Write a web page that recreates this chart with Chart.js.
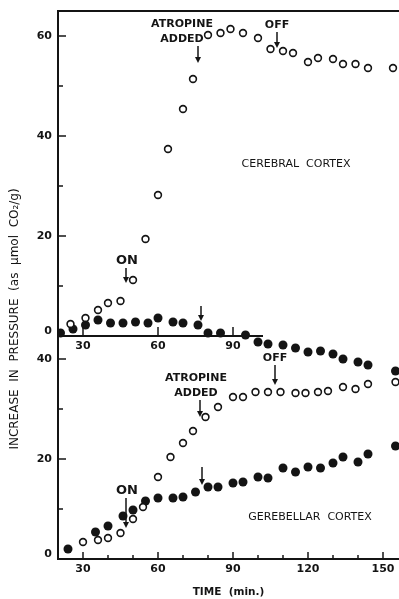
<!DOCTYPE html>
<html>
<head>
<meta charset="utf-8">
<script src="https://cdn.jsdelivr.net/npm/chart.js@4.4.1/dist/chart.umd.min.js"></script>
<style>
  html, body { margin: 0; padding: 0; background: #fff; }
  #chartBox { width: 399px; height: 599px; }
</style>
</head>
<body>
<div id="chartBox"><canvas id="pressureChart" width="399" height="599"></canvas></div>
<script>
// Cerebral cortex (upper panel)
const cerebralOpenTime = [25, 31, 36, 40, 45, 50, 55, 60, 64, 70, 74, 80, 85, 89, 94, 100, 105, 110, 114, 120, 124, 130, 134, 139, 144, 154];
const cerebralOpen = [2.4, 3.6, 5.2, 6.6, 7.0, 11.2, 19.4, 28.2, 37.4, 45.4, 51.4, 60.2, 60.6, 61.4, 60.6, 59.6, 57.4, 57.0, 56.6, 54.8, 55.6, 55.4, 54.4, 54.4, 53.6, 53.6];
const cerebralFilledTime = [21, 26, 31, 36, 41, 46, 51, 56, 60, 66, 70, 76, 80, 85, 95, 100, 104, 110, 115, 120, 125, 130, 134, 140, 144, 155];
const cerebralFilled = [0.6, 1.4, 2.2, 3.2, 2.6, 2.6, 2.8, 2.6, 3.6, 2.8, 2.6, 2.2, 0.6, 0.6, 0.2, -1.2, -1.6, -1.8, -2.4, -3.2, -3.0, -3.6, -4.6, -5.2, -5.8, -7.0];

// Cerebellar cortex (lower panel)
const cerebellarOpenTime = [30, 36, 40, 45, 50, 54, 60, 65, 70, 74, 79, 84, 90, 94, 99, 104, 109, 115, 119, 124, 128, 134, 139, 144, 155];
const cerebellarOpen = [3.4, 3.8, 4.2, 5.2, 8.0, 10.4, 16.4, 20.4, 23.2, 25.6, 28.4, 30.4, 32.4, 32.4, 33.4, 33.4, 33.4, 33.2, 33.2, 33.4, 33.6, 34.4, 34.0, 35.0, 35.4];
const cerebellarFilledTime = [24, 35, 40, 46, 50, 55, 60, 66, 70, 75, 80, 84, 90, 94, 100, 104, 110, 115, 120, 125, 130, 134, 140, 144, 155];
const cerebellarFilled = [2.0, 5.4, 6.6, 8.6, 9.8, 11.6, 12.2, 12.2, 12.4, 13.4, 14.4, 14.4, 15.2, 15.4, 16.4, 16.2, 18.2, 17.4, 18.4, 18.2, 19.2, 20.4, 19.4, 21.0, 22.6];

// tick labels
const timeTicks = [30, 60, 90, 120, 150];
const upperTimeTicks = [30, 60, 90];
const upperTicks = [0, 20, 40, 60];
const lowerTicks = [0, 20, 40];

const ink = '#141414';
const font = 'DejaVu Sans';

// arrows and labels placed on the data
const notes = [
  { axis: 'yTop', x: 76, y: 54.6, len: 17, dx: -16, text: ['ATROPINE', 'ADDED'] },
  { axis: 'yTop', x: 107.6, y: 57.6, len: 16, dx: 0, text: ['OFF'] },
  { axis: 'yTop', x: 47.2, y: 10.6, len: 15, dx: 1, text: ['ON'] },
  { axis: 'yTop', x: 77.2, y: 3.0, len: 15, dx: 0, text: [] },
  { axis: 'yBot', x: 76.8, y: 28.4, len: 17, dx: -4, text: ['ATROPINE', 'ADDED'] },
  { axis: 'yBot', x: 106.8, y: 34.8, len: 20, dx: 0, text: ['OFF'] },
  { axis: 'yBot', x: 47.2, y: 6.2, len: 30, dx: 1, text: ['ON'] },
  { axis: 'yBot', x: 77.6, y: 14.8, len: 18, dx: 0, text: [] }
];
const panelLabels = [
  { axis: 'yTop', x: 115.2, y: 34.4, text: 'CEREBRAL  CORTEX' },
  { axis: 'yBot', x: 120.8, y: 8.4, text: 'GEREBELLAR  CORTEX' }
];

function pairs(xs, ys) {
  return xs.map((t, i) => ({ x: t, y: ys[i] }));
}

const openStyle = { pointRadius: 3.4, pointBorderWidth: 1.6, pointBorderColor: ink, pointBackgroundColor: '#fff', showLine: false };
const filledStyle = { pointRadius: 4.5, pointBorderWidth: 0, pointBackgroundColor: ink, pointBorderColor: ink, showLine: false };

const decorations = {
  id: 'decorations',
  afterDraw(chart) {
    const { ctx, chartArea: a, scales } = chart;
    const x = scales.x, yTop = scales.yTop, yBot = scales.yBot;
    ctx.save();
    ctx.strokeStyle = ink;
    ctx.fillStyle = ink;

    function seg(x1, y1, x2, y2, w) {
      ctx.lineWidth = w;
      ctx.beginPath();
      ctx.moveTo(x1, y1);
      ctx.lineTo(x2, y2);
      ctx.stroke();
    }

    // frame on top
    seg(a.left - 1, a.top, a.right, a.top, 2);

    // upper panel time axis
    const y0 = yTop.getPixelForValue(0);
    seg(a.left, y0, x.getPixelForValue(102), y0, 2);
    upperTimeTicks.forEach(t => seg(x.getPixelForValue(t), y0, x.getPixelForValue(t), y0 - 9, 1.5));
    ctx.font = 'bold 11px "' + font + '"';
    ctx.textAlign = 'center';
    ctx.textBaseline = 'middle';
    upperTimeTicks.forEach(t => ctx.fillText(String(t), x.getPixelForValue(t), y0 + 10));

    // value labels of both panels (zero sits a little above its line)
    ctx.textAlign = 'right';
    upperTicks.forEach(v => ctx.fillText(String(v), a.left - 6, yTop.getPixelForValue(v) - (v === 0 ? 5 : 0)));
    lowerTicks.forEach(v => ctx.fillText(String(v), a.left - 6, yBot.getPixelForValue(v) - (v === 0 ? 5 : 0)));
    ctx.textAlign = 'center';

    // lower time axis tick marks
    for (let t = 30; t <= 150; t += 10) {
      const px = x.getPixelForValue(t);
      seg(px, a.bottom, px, a.bottom - (t % 30 === 0 ? 7 : 4), 1.5);
    }

    // value axis tick marks
    for (let v = 10; v <= 60; v += 10) {
      const py = yTop.getPixelForValue(v);
      seg(a.left, py, a.left + (v % 20 === 0 ? 8 : 5), py, 1.5);
    }
    for (let v = 10; v <= 40; v += 10) {
      const py = yBot.getPixelForValue(v);
      seg(a.left, py, a.left + (v % 20 === 0 ? 8 : 5), py, 1.5);
    }

    // arrows with notes
    notes.forEach(n => {
      const sc = scales[n.axis];
      const px = x.getPixelForValue(n.x);
      const tip = sc.getPixelForValue(n.y);
      const top = tip - n.len;
      seg(px, top, px, tip - 4, 1.5);
      ctx.beginPath();
      ctx.moveTo(px - 3, tip - 6);
      ctx.lineTo(px + 3, tip - 6);
      ctx.lineTo(px, tip);
      ctx.closePath();
      ctx.fill();
      ctx.font = 'bold ' + (n.text[0] === 'ON' ? 13 : 11) + 'px "' + font + '"';
      n.text.slice().reverse().forEach((s, i) => {
        ctx.fillText(s, px + n.dx, top - 7 - i * 15);
      });
    });

    ctx.font = '11px "' + font + '"';
    panelLabels.forEach(p => {
      ctx.fillText(p.text, x.getPixelForValue(p.x), scales[p.axis].getPixelForValue(p.y));
    });

    // value axis title
    ctx.translate(15, 319);
    ctx.rotate(-Math.PI / 2);
    ctx.font = '12px "' + font + '"';
    ctx.fillText('INCREASE  IN  PRESSURE  (as  \u03bcmol  CO\u2082/g)', 0, 0);
    ctx.restore();
  }
};

document.addEventListener('DOMContentLoaded', function() {
  const ctx = document.getElementById('pressureChart').getContext('2d');
  const tickFont = { family: font, size: 11, weight: 'bold' };

  new Chart(ctx, {
    type: 'scatter',
    data: {
      datasets: [
        Object.assign({ label: 'Cerebral open', yAxisID: 'yTop', data: pairs(cerebralOpenTime, cerebralOpen) }, openStyle),
        Object.assign({ label: 'Cerebral filled', yAxisID: 'yTop', data: pairs(cerebralFilledTime, cerebralFilled) }, filledStyle),
        Object.assign({ label: 'Cerebellar open', yAxisID: 'yBot', data: pairs(cerebellarOpenTime, cerebellarOpen) }, openStyle),
        Object.assign({ label: 'Cerebellar filled', yAxisID: 'yBot', data: pairs(cerebellarFilledTime, cerebellarFilled) }, filledStyle)
      ]
    },
    options: {
      responsive: false,
      animation: false,
      devicePixelRatio: 1,
      layout: { autoPadding: false, padding: { top: 11, left: 0, right: 0, bottom: 0 } },
      plugins: {
        legend: { display: false },
        tooltip: { enabled: false }
      },
      scales: {
        x: {
          type: 'linear',
          position: 'bottom',
          min: 20,
          max: 156.4,
          afterBuildTicks: s => { s.ticks = timeTicks.map(v => ({ value: v })); },
          afterFit: s => { s.height = 40; s.paddingLeft = 0; s.paddingRight = 0; },
          grid: { display: false, drawTicks: false },
          border: { display: true, color: ink, width: 2 },
          ticks: { color: ink, font: tickFont, padding: 4, autoSkip: false, maxRotation: 0 },
          title: {
            display: true,
            text: 'TIME  (min.)',
            color: ink,
            font: { family: font, size: 10.5, weight: 'bold' },
            padding: { top: 0, bottom: 0 }
          }
        },
        yTop: {
          type: 'linear',
          position: 'left',
          weight: 2,
          min: -44.6,
          max: 65,
          afterFit: s => { s.width = 58; s.paddingTop = 0; s.paddingBottom = 0; },
          grid: { display: false, drawTicks: false },
          border: { display: true, color: ink, width: 2 },
          ticks: { display: false }
        },
        yBot: {
          type: 'linear',
          position: 'left',
          weight: 1,
          min: 0,
          max: 109.6,
          afterFit: s => { s.width = 0; s.paddingTop = 0; s.paddingBottom = 0; },
          grid: { display: false, drawTicks: false },
          border: { display: false },
          ticks: { display: false }
        }
      }
    },
    plugins: [decorations]
  });
});
</script>
</body>
</html>
